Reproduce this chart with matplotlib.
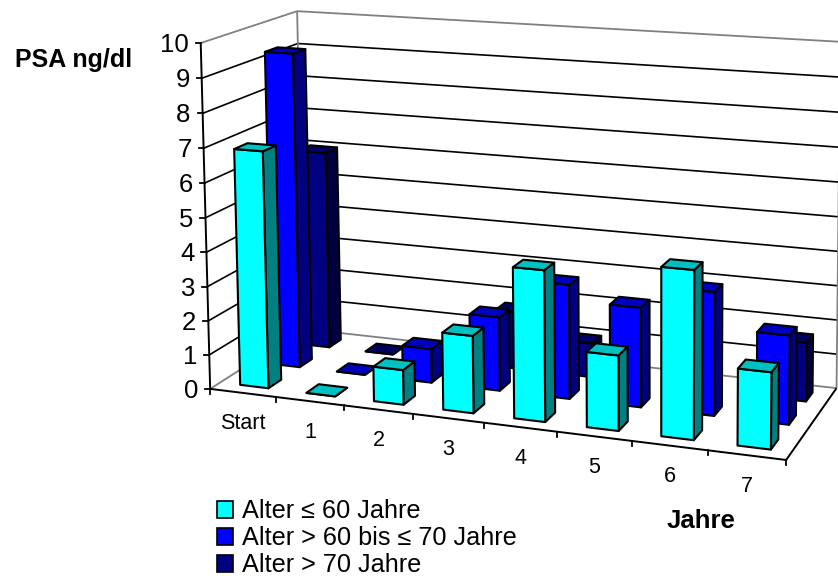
import numpy as np
import matplotlib
matplotlib.use("Agg")
import matplotlib.pyplot as plt
from matplotlib.patches import Patch

plt.rcParams['font.family'] = ['Liberation Sans', 'DejaVu Sans']

# chart data (nan = no bar drawn)
categories = ["Start", "1", "2", "3", "4", "5", "6", "7"]
series_names = ["Alter ≤ 60 Jahre", "Alter > 60 bis ≤ 70 Jahre", "Alter > 70 Jahre"]
young = [6.9, 0.0, 1.0, 2.2, 4.25, 2.1, 4.65, 2.1]
middle = [9.35, 0.0, 1.0, 2.15, 3.3, 2.85, 3.5, 2.5]
old = [6.0, 0.0, np.nan, 1.7, 1.0, np.nan, np.nan, 1.7]
z_ticks = list(range(0, 11))

face_colors = ["#00FFFF", "#0000FF", "#000080"]
side_colors = ["#008080", "#000080", "#000040"]
top_colors = ["#00C0C0", "#0000C0", "#000060"]

BAR_SIZE = 0.43
BAR_DEPTH = 0.40
ZMAX = 10


def fit_camera(world, pixels):
    # 3x4 perspective matrix from known corners of the chart box
    rows, rhs = [], []
    for (x, y, z), (u, v) in zip(world, pixels):
        rows.append([x, y, z, 1, 0, 0, 0, 0, -u * x, -u * y, -u * z])
        rhs.append(u)
        rows.append([0, 0, 0, 0, x, y, z, 1, -v * x, -v * y, -v * z])
        rhs.append(v)
    p = np.linalg.lstsq(np.array(rows, float), np.array(rhs, float), rcond=None)[0]
    return np.append(p, 1).reshape(3, 4)


n_cat = len(categories)
box_world = [(0, 0, 0), (0, 0, ZMAX), (n_cat, 0, 0), (0, 1, 0),
             (0, 1, ZMAX), (n_cat, 1, 0), (n_cat, 1, ZMAX)]
box_pixels = [(212, 388), (199, 43), (786, 461), (302, 330),
              (299, 11), (837, 387), (840, 42)]
CAM = fit_camera(box_world, box_pixels)


def project(x, y, z):
    u, v, w = CAM @ np.array([x, y, z, 1.0])
    return u / w, v / w


def line3d(ax, a, b, **kw):
    pa, pb = project(*a), project(*b)
    ax.plot([pa[0], pb[0]], [pa[1], pb[1]], solid_capstyle='butt', **kw)


def bar3d(ax, x0, y0, height, idx):
    x1, y1 = x0 + BAR_SIZE, y0 + BAR_DEPTH / 3
    def quad(pts):
        return np.array([project(*p) for p in pts])
    faces = [
        (quad([(x1, y0, 0), (x1, y1, 0), (x1, y1, height), (x1, y0, height)]), side_colors[idx]),
        (quad([(x0, y0, 0), (x1, y0, 0), (x1, y0, height), (x0, y0, height)]), face_colors[idx]),
        (quad([(x0, y0, height), (x1, y0, height), (x1, y1, height), (x0, y1, height)]), top_colors[idx]),
    ]
    for verts, color in faces:
        ax.fill(verts[:, 0], verts[:, 1], facecolor=color, edgecolor='black',
                linewidth=1.5, joinstyle='round', zorder=3)


fig = plt.figure(figsize=(8.38, 5.76), dpi=100)
ax = fig.add_axes([0, 0, 1, 1])
ax.set_xlim(0, 838)
ax.set_ylim(576, 0)
ax.axis('off')

# walls and grid
for z in z_ticks[1:-1]:
    line3d(ax, (0, 0, z), (0, 1, z), color='black', lw=1.2)
    line3d(ax, (0, 1, z), (n_cat, 1, z), color='black', lw=1.2)
GRAY = '#808080'
line3d(ax, (0, 0, ZMAX), (0, 1, ZMAX), color=GRAY, lw=1.3)
line3d(ax, (0, 1, ZMAX), (n_cat, 1, ZMAX), color=GRAY, lw=1.3)
line3d(ax, (0, 1, 0), (0, 1, ZMAX), color=GRAY, lw=1.3)
line3d(ax, (0, 0, 0), (0, 1, 0), color=GRAY, lw=1.3)
line3d(ax, (0, 1, 0), (n_cat, 1, 0), color=GRAY, lw=1.3)
line3d(ax, (n_cat, 1, 0), (n_cat, 1, ZMAX), color=GRAY, lw=1.3)

# axes
line3d(ax, (0, 0, 0), (0, 0, ZMAX), color='black', lw=1.4)
line3d(ax, (0, 0, 0), (n_cat, 0, 0), color='black', lw=1.4)
line3d(ax, (n_cat, 0, 0), (n_cat, 1, 0), color='black', lw=1.4)
for z in z_ticks:
    px, py = project(0, 0, z)
    ax.plot([px - 5, px], [py, py], color='black', lw=1.3)
    ax.text(px - 12, py + 2, str(z), ha='right', va='center', fontsize=18.5, color='black')
for i in range(n_cat + 1):
    px, py = project(i, 0, 0)
    ax.plot([px, px], [py, py + 5], color='black', lw=1.3)
for i, name in enumerate(categories):
    px, py = project(i + 0.5, 0, 0)
    ax.text(px, py + 31, name, ha='center', va='center', fontsize=15.5, color='black')

# bars, back row first
rows = [young, middle, old]
for idx in [2, 1, 0]:
    for i in range(n_cat - 1, -1, -1):
        val = rows[idx][i]
        if np.isnan(val):
            continue
        x0 = i + (1 - BAR_SIZE) / 2 + 0.02
        y0 = idx / 3 + (1 / 3 - BAR_DEPTH / 3) / 2
        bar3d(ax, x0, y0, val, idx)

ax.text(15, 60, "PSA ng/dl", fontsize=18, fontweight='bold', ha='left', va='center')
ax.text(667, 521, "Jahre", fontsize=18.5, fontweight='bold', ha='left', va='center')

handles = [Patch(facecolor=c, edgecolor='black', linewidth=1.2, label=s)
           for c, s in zip(face_colors, series_names)]
ax.legend(handles=handles, loc='upper left', bbox_to_anchor=(217 / 838, 1 - 499 / 576),
          frameon=False, fontsize=18.2, handlelength=0.65, handleheight=0.65,
          handletextpad=0.32, labelspacing=0.12, borderpad=0, borderaxespad=0)

fig.savefig("out.png", dpi=100)
